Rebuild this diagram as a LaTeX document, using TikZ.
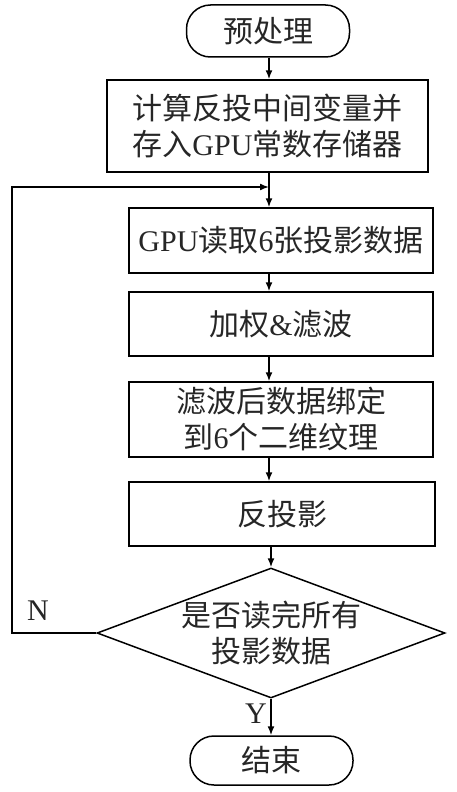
\documentclass[tikz,border=0pt]{standalone}
\usepackage{fontspec}
\setmainfont{Liberation Serif}
\newfontfamily\cjk{Noto Sans CJK SC}
\usetikzlibrary{shapes.geometric,arrows.meta}
\begin{document}
\begin{tikzpicture}[x=1pt,y=-1pt,
  line width=1.5pt,
  txt/.style={font=\fontsize{30}{36}\selectfont, align=center, inner sep=0pt, text=black!85},
  proc/.style={draw, rectangle, inner sep=0pt},
  term/.style={draw, rectangle, rounded corners=24pt, inner sep=0pt},
  dec/.style={draw, diamond, inner sep=0pt, minimum width=348pt, minimum height=130pt},
  arr/.style={-{Latex[length=9pt,width=7pt]}},
 ]
\useasboundingbox (0,0) rectangle (456,792);

\node[term, txt, minimum width=163pt, minimum height=52pt] (top) at (268,31) {{\cjk 预处理}};
\node[proc, txt, minimum width=321pt, minimum height=92pt] (box1) at (267.5,126)
  {{\cjk 计算反投中间变量并}\\{\cjk 存入}GPU{\cjk 常数存储器}};
\node[proc, txt, minimum width=304pt, minimum height=65pt] (box2) at (281,240.5)
  {GPU{\cjk 读取}6{\cjk 张投影数据}};
\node[proc, txt, minimum width=304pt, minimum height=64pt] (box3) at (281,324)
  {{\cjk 加权}\&{\cjk 滤波}};
\node[proc, txt, minimum width=304pt, minimum height=75pt] (box4) at (281,419.5)
  {{\cjk 滤波后数据绑定}\\{\cjk 到}6{\cjk 个二维纹理}};
\node[proc, txt, minimum width=306pt, minimum height=64pt] (box5) at (282,514)
  {{\cjk 反投影}};
\node[dec] (dec) at (271,633) {};
\node[txt] (dectxt) at (dec.center) {{\cjk 是否读完所有}\\{\cjk 投影数据}};
\node[term, txt, minimum width=163pt, minimum height=49pt] (end) at (271.5,760.5) {{\cjk 结束}};

\node[txt] (nlab) at (38,611) {N};
\node[txt] (ylab) at (256,714) {Y};

\coordinate (ax) at (269,0);
\coordinate (loopc) at (12,187);
\coordinate (join) at (269,187);

\draw[arr] (top.south -| ax) -- (box1.north -| ax);
\draw[arr] (box1.south -| ax) -- (box2.north -| ax);
\draw[arr] (box2.south -| ax) -- (box3.north -| ax);
\draw[arr] (box3.south -| ax) -- (box4.north -| ax);
\draw[arr] (box4.south -| ax) -- (box5.north -| ax);
\draw[arr] (box5.south -| dec.north) -- (dec.north);
\draw[arr] (dec.south) -- (end.north -| dec.south);
\draw[arr] (dec.west) -| (loopc) -- (join);
\end{tikzpicture}
\end{document}
